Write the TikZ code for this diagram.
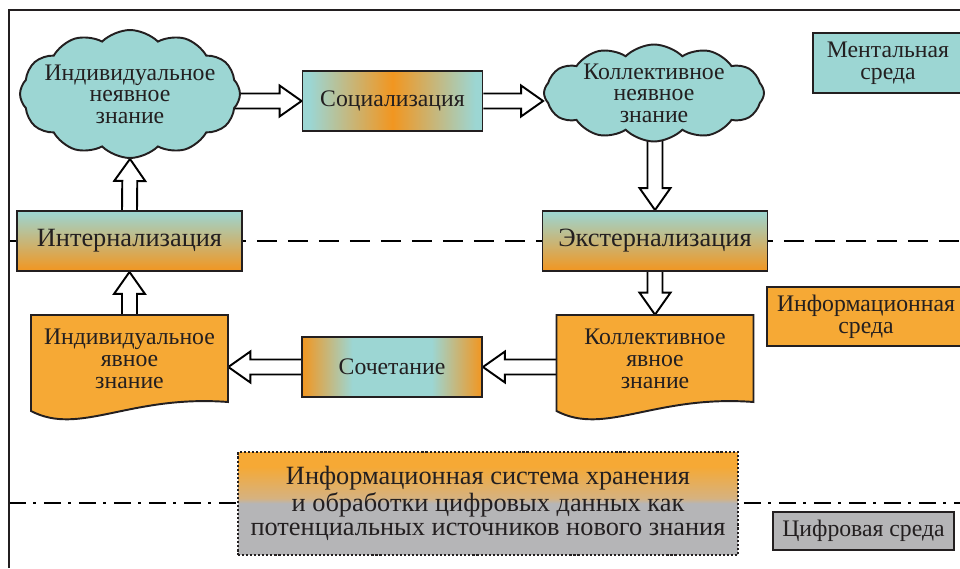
\documentclass[tikz,border=0pt]{standalone}
\usepackage{fontspec}
\setmainfont{Liberation Serif}
\usepackage{tikz}
\usetikzlibrary{shapes.symbols,calc,backgrounds}

\definecolor{tealc}{RGB}{156,214,211}
\definecolor{orangec}{RGB}{246,169,53}
\definecolor{oranged}{RGB}{242,150,32}
\definecolor{tanc}{RGB}{214,178,128}
\definecolor{grayc}{RGB}{181,181,183}
\definecolor{inkc}{RGB}{35,31,32}

\pgfdeclarehorizontalshading{socshade}{100bp}{color(0bp)=(tealc); color(27bp)=(tealc); color(50bp)=(oranged); color(73bp)=(tealc); color(100bp)=(tealc)}
\pgfdeclarehorizontalshading{combshade}{100bp}{color(0bp)=(oranged); color(25bp)=(oranged); color(39bp)=(tealc); color(61bp)=(tealc); color(75bp)=(oranged); color(100bp)=(oranged)}
\pgfdeclareverticalshading{infoshade}{100bp}{color(0bp)=(grayc); color(50bp)=(grayc); color(52.5bp)=(tanc); color(68bp)=(orangec); color(100bp)=(orangec)}

\begin{document}
\begin{tikzpicture}[x=0.02cm,y=-0.02cm,color=inkc,
  cloudnode/.style={cloud,cloud puffs=12,cloud puff arc=90,cloud ignores aspect,draw,fill=tealc,
    line width=1.1pt,inner sep=0pt},
  cloudtext/.style={font=\fontsize{13.5}{12.2}\selectfont,align=center,inner sep=0pt},
  procbox/.style={rectangle,draw,shade,line width=1.1pt,minimum width=3.6cm,minimum height=1.2cm,
    inner sep=0pt,font=\fontsize{13.5}{12.5}\selectfont},
  stagebox/.style={rectangle,draw,line width=1.1pt,top color=tealc,bottom color=oranged,
    minimum width=4.5cm,minimum height=1.2cm,inner sep=0pt,font=\fontsize{15}{15}\selectfont},
  docnode/.style={rectangle,minimum width=3.94cm,minimum height=1.74cm,inner sep=0pt,
    align=center,font=\fontsize{13.5}{12.5}\selectfont},
  legend/.style={rectangle,draw,line width=1.1pt,inner sep=0pt,align=center,
    font=\fontsize{13.5}{12.5}\selectfont},
  docwave/.pic={\draw[fill=orangec,line width=1.1pt] (-98.5,-43.5) -- (98.5,-43.5) -- (98.5,43.5)
    .. controls (0,36) and (-50,78) .. (-98.5,52.5) -- cycle;},
  fat/.style={draw,fill=white,line width=1.1pt,to path={
    ($(\tikztostart)!0.15cm!90:(\tikztotarget)$)
    -- ($($(\tikztotarget)!0.44cm!(\tikztostart)$)!0.15cm!-90:(\tikztostart)$)
    -- ($($(\tikztotarget)!0.44cm!(\tikztostart)$)!0.31cm!-90:(\tikztostart)$)
    -- (\tikztotarget)
    -- ($($(\tikztotarget)!0.44cm!(\tikztostart)$)!0.31cm!90:(\tikztostart)$)
    -- ($($(\tikztotarget)!0.44cm!(\tikztostart)$)!0.15cm!90:(\tikztostart)$)
    -- ($(\tikztostart)!0.15cm!-90:(\tikztotarget)$)}}]
\useasboundingbox (0,0) rectangle (960,568);

\draw[line width=1.2pt] (9,568) -- (9,10) -- (960,10);

\node[cloudnode,minimum width=4.4cm,minimum height=2.56cm,
  label={[cloudtext]center:Индивидуальное\\неявное\\знание}] (cloud1) at (130,94) {};
\node[procbox,shading=socshade] (soc) at (392.5,101) {Социализация};
\node[cloudnode,minimum width=4.4cm,minimum height=1.94cm,
  label={[cloudtext]center:Коллективное\\неявное\\знание}] (cloud2) at (654,93) {};

\node[stagebox] (int) at (129.5,241) {Интернализация};
\node[stagebox] (ext) at (655,241) {Экстернализация};

\pic at (129.5,358.5) {docwave};
\node[docnode] (docL) at (129.5,358.5) {Индивидуальное\\явное\\знание};
\pic at (655,358.5) {docwave};
\node[docnode] (docR) at (655,358.5) {Коллективное\\явное\\знание};
\node[procbox,shading=combshade] (comb) at (392,367) {Сочетание};

\node[legend,fill=tealc,minimum width=3cm,minimum height=1.2cm] (ment) at (888,63) {Ментальная\\среда};
\node[legend,fill=orangec,minimum width=3.96cm,minimum height=1.18cm] (inform) at (866,316.5) {Информационная\\среда};
\node[legend,fill=grayc,minimum width=3.62cm,minimum height=0.76cm] (digit) at (863.5,531) {Цифровая среда};

\node[rectangle,draw,shade,shading=infoshade,line width=1.2pt,dash pattern=on 1.2pt off 1.1pt,
  minimum width=10cm,minimum height=2.06cm,inner sep=0pt,align=center,
  font=\fontsize{15}{13.8}\selectfont] (infosys) at (488,503.5)
  {Информационная система хранения\\и обработки цифровых данных как\\потенциальных источников нового знания};

\coordinate (s1) at (cloud1.center |- soc.west);
\coordinate (e2) at (soc.east -| cloud2.west);
\coordinate (s3) at (ext.north |- cloud2.center);
\coordinate (s5) at (comb.east -| docR.west);
\coordinate (e6) at (comb.west -| docL.east);

\begin{scope}[on background layer]
\draw[line width=1.7pt,dash pattern=on 0.4cm off 0.22cm] (9,241) -- (960,241);
\draw[line width=1.7pt,dash pattern=on 0.34cm off 0.15cm on 0.06cm off 0.15cm] (9,503) -- (960,503);
\path (s1)        edge[fat] (soc.west)
      (soc.east)  edge[fat] (e2)
      (s3)        edge[fat] (ext.north)
      (ext.south) edge[fat] (docR.north)
      (s5)        edge[fat] (comb.east)
      (comb.west) edge[fat] (e6)
      (docL.north) edge[fat] (int.south)
      (int.north) edge[fat] (cloud1.south);
\end{scope}
\end{tikzpicture}
\end{document}
